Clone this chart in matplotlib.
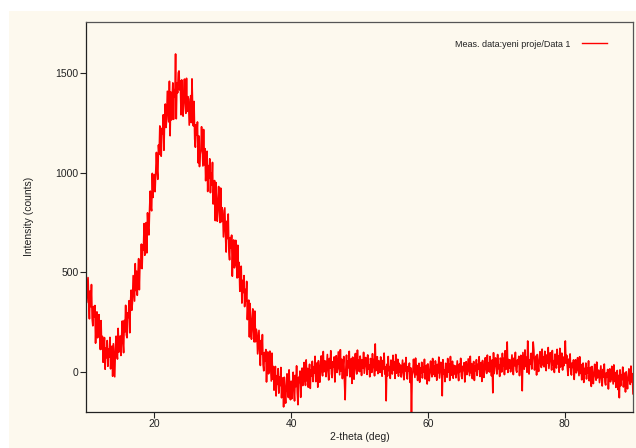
import numpy as np
import matplotlib
matplotlib.use('Agg')
import matplotlib.pyplot as plt
from matplotlib.patches import Rectangle

plt.rcParams['font.family'] = ['Liberation Sans', 'DejaVu Sans']

## Data (0.1 deg step from 10 to 90 deg)

scan_start, scan_end = 10.0, 90.0

intensity_10_30 = [
    530, 348, 411, 473, 347, 266, 406, 327, 438, 268,
    231, 328, 277, 333, 144, 262, 301, 171, 185, 287,
    189, 112, 257, 115, 178, 48, 123, 172, 13, 119,
    71, 157, 28, 116, 74, 173, 15, 93, 129, -22,
    141, 55, -25, 115, 179, 92, 64, 218, 99, 171,
    180, 82, 169, 255, 153, 96, 258, 201, 334, 186,
    171, 296, 273, 357, 196, 342, 410, 309, 352, 483,
    416, 355, 543, 408, 505, 384, 490, 568, 412, 555,
    523, 641, 518, 638, 612, 744, 585, 691, 749, 597,
    798, 718, 687, 818, 907, 826, 808, 996, 875, 971,
    990, 904, 1003, 1101, 1011, 966, 1138, 1091, 1234, 1096,
    1082, 1222, 1196, 1290, 1112, 1274, 1344, 1226, 1268, 1408,
    1328, 1254, 1458, 1185, 1404, 1264, 1373, 1450, 1267, 1416,
    1379, 1595, 1270, 1450, 1400, 1500, 1510, 1415, 1460, 1290,
    1465, 1347, 1283, 1399, 1469, 1349, 1297, 1473, 1307, 1381,
    1369, 1238, 1313, 1386, 1251, 1470, 1321, 1234, 1357, 1168,
    1127, 1240, 1187, 1254, 1049, 1184, 1030, 1092, 1112, 1230,
    1128, 1033, 1216, 1039, 1120, 959, 1049, 1107, 905, 1035,
    971, 1069, 899, 999, 937, 1051, 842, 927, 960, 759,
    950, 826, 756, 866, 930, 804, 749, 922, 753, 824,
]
intensity_30_50 = [
    809, 677, 751, 823, 687, 601, 756, 669, 792, 603,
    562, 674, 620, 686, 480, 614, 662, 522, 542, 660,
    556, 471, 635, 476, 549, 404, 481, 530, 345, 459,
    398, 483, 327, 414, 355, 454, 262, 335, 360, 175,
    343, 229, 164, 261, 316, 201, 150, 305, 151, 214,
    195, 90, 150, 208, 100, 32, 157, 88, 187, 37,
    5, 97, 56, 112, -51, 59, 100, -10, 8, 104,
    24, -46, 94, -37, 27, -92, -20, 27, -121, -19,
    -63, 16, -107, -27, -69, 22, -130, -60, -30, -176,
    -27, -113, -157, -66, -10, -97, -129, 10, -108, -140,
    -47, -135, -67, -2, -93, -146, -18, -74, 30, -102,
    -165, -27, -53, 4, -128, -23, 19, -69, -46, 47,
    -16, -68, 60, -45, 17, -77, -9, 38, -83, 11,
    -21, 53, -49, 26, -5, 78, -49, 15, 45, -77,
    56, -15, -52, 29, 80, 8, -20, 102, 0, 55,
    54, -24, 33, 87, 6, -41, 67, 18, 106, -10,
    -29, 51, 24, 75, -51, 44, 81, -3, 16, 100,
    40, -15, 111, 3, 63, -34, 32, 77, -46, -140,
    12, 84, -19, 54, 21, 103, -25, 37, 66, -58,
    74, 1, -37, 42, 92, 18, -11, 109, 6, 59,
]
intensity_50_70 = [
    1, 79, 42, -18, 61, 19, 98, -7, 30, 72,
    46, -13, 85, 14, 34, -25, 67, 53, -3, 91,
    22, 62, -20, 140, 6, 37, 76, -9, 56, 13,
    -3, 75, 38, -22, 57, 15, 94, -11, 26, -145,
    38, -21, 77, 6, 26, -33, 59, 45, -11, 83,
    9, 49, -33, 87, -7, 24, 63, -22, 43, 0,
    34, -26, 17, 59, -3, -40, 43, 5, 72, -17,
    -36, 26, 5, 44, -53, 20, -230, -16, -1, 63,
    14, -28, 69, -14, 32, -43, 8, 43, -52, 19,
    -7, 48, -31, 25, 0, 63, -36, 12, 34, -61,
    40, -16, -45, 16, 54, -3, -25, 67, -12, 29,
    -23, 55, 18, -42, 37, -5, 74, -31, 6, 48,
    22, -120, 61, -10, 10, -49, 43, 29, -27, 67,
    -1, 39, -43, 77, -17, 14, 53, -32, 33, -10,
    30, -30, 13, 55, -7, -44, 39, 1, 68, -21,
    -34, 28, 7, 46, -51, 22, 51, -14, 1, 65,
    23, -19, 78, -5, 41, -34, 17, 52, -43, 28,
    6, 61, -18, 38, 13, 76, -23, 25, 47, -48,
    57, 1, -28, 33, 71, 14, -8, 84, 5, 46,
    -1, 77, 40, -20, 59, -105, 96, -9, 28, 70,
]
intensity_70_90 = [
    48, -11, 87, 16, 36, -23, 69, 55, -1, 93,
    28, 68, -14, 106, 12, 43, 150, -3, 62, 19,
    60, 0, 43, 85, 23, -14, 69, 31, 98, 9,
    -2, 60, 39, 78, -19, 54, 83, 18, -95, 97,
    55, 13, 110, 27, 73, -2, 155, 84, -11, 60,
    38, 93, 14, 70, 150, 108, 9, 57, 79, -16,
    87, 31, 2, 63, 101, 44, 22, 114, 35, 76,
    25, 103, 66, 6, 85, 43, 122, 17, 54, 96,
    68, 9, 107, 36, 56, -3, 89, 75, 19, 113,
    40, 80, -2, 118, 24, 55, 94, 9, 74, 31,
    62, 155, 43, 83, 20, -18, 64, 25, 90, 0,
    -16, 45, 22, 60, -38, 33, 61, -5, 8, 71,
    24, -19, 76, -8, 37, -40, 10, 44, -53, 17,
    -10, 44, -36, 19, -7, 55, -45, 2, 23, -73,
    27, -30, -59, 1, 38, -20, -42, 49, -31, 9,
    7, -54, -11, 30, -33, -71, 12, -27, 39, -51,
    -66, -5, -26, 12, -86, -13, 15, -50, -36, 28,
    -19, -61, 35, -48, -3, -78, -28, 7, -89, -18,
    -130, 10, -70, -14, -39, 24, -76, -28, -6, -101,
    0, -56, -85, -23, 15, -42, -63, 29, -50, -9,
    -110,
]

intensity = np.array(intensity_10_30 + intensity_30_50 + intensity_50_70 + intensity_70_90)
two_theta = np.linspace(scan_start, scan_end, len(intensity))

## Plotting

cream = '#fdf9ee'
W, H = 636, 448
fig = plt.figure(figsize=(W/100, H/100), dpi=100, facecolor='white')
fig.patches.append(Rectangle((9/W, 0), 1, 1 - 11/H, transform=fig.transFigure,
                             facecolor=cream, edgecolor='none', zorder=-10))

ax = fig.add_axes([86/W, (H-411.7)/H, (633-86)/W, (411.7-21.7)/H])
ax.set_facecolor(cream)
ax.plot(two_theta, intensity, color='#ff0000', lw=1.2, label='Meas. data:yeni proje/Data 1')

ax.set_xlim(10, 90)
ax.set_ylim(-200, 1757)
ax.set_xticks([20, 40, 60, 80])
ax.set_yticks([0, 500, 1000, 1500])
ax.tick_params(direction='out', length=4, width=0.8, labelsize=7.5, colors='#222222', pad=1.5)
for side in ['left', 'bottom']:
    ax.spines[side].set_color('#222222')
for side in ['top', 'right']:
    ax.spines[side].set_color('#555555')
for sp in ax.spines.values():
    sp.set_linewidth(0.9)

ax.set_xlabel('2-theta (deg)', fontsize=7.5, color='#222222', labelpad=2)
ax.set_ylabel('Intensity (counts)', fontsize=7.5, color='#222222', labelpad=15)

leg = ax.legend(loc='upper right', bbox_to_anchor=(0.967, 0.975), frameon=False,
                markerfirst=False, fontsize=6.5, handlelength=2.8, handletextpad=1.2)
leg.get_lines()[0].set_linewidth(1.0)
for t in leg.get_texts():
    t.set_color('#222222')

fig.savefig('out.png', dpi=100, facecolor='white')
